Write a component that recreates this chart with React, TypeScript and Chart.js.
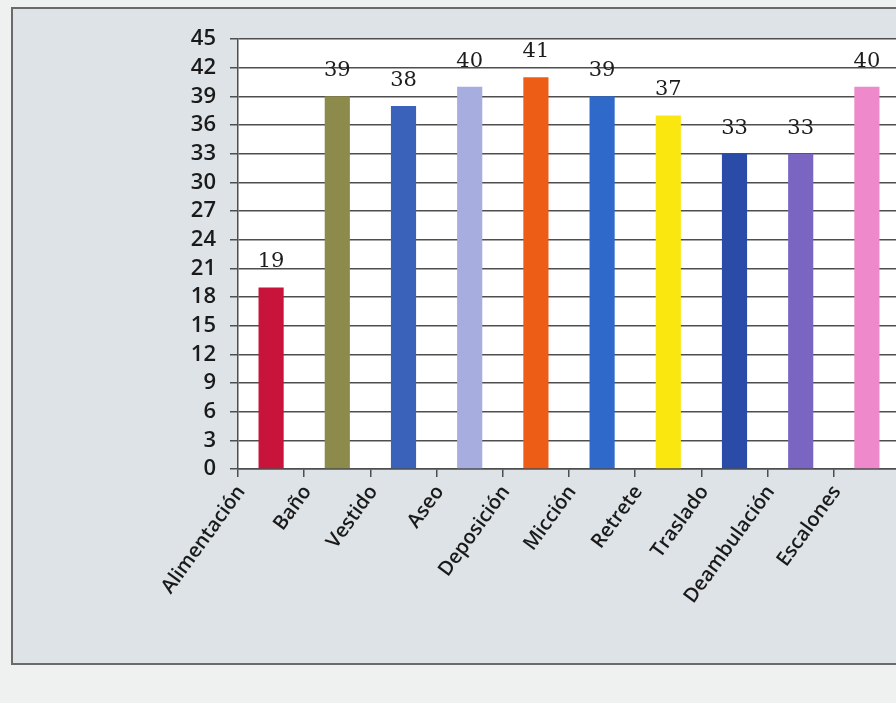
import { useEffect, useRef } from "react";
import { Chart, registerables } from "chart.js";

Chart.register(...registerables);

// Activities of daily living and their scores
const categories = [
  "Alimentación",
  "Baño",
  "Vestido",
  "Aseo",
  "Deposición",
  "Micción",
  "Retrete",
  "Traslado",
  "Deambulación",
  "Escalones",
];
const values = [19, 39, 38, 40, 41, 39, 37, 33, 33, 40];
const barColors = [
  "#c8133a",
  "#8c8b4c",
  "#3a62bb",
  "#a8addf",
  "#ee5d16",
  "#2f69c9",
  "#fbe710",
  "#2b4ba8",
  "#7a66c2",
  "#ee8acb",
];
const yMin = 0;
const yMax = 45;
const yStep = 3;

const CANVAS_W = 887;
const CANVAS_H = 654;

const inkColor = "#4e4e4e";
const labelFamily = "'Open Sans', Lato, sans-serif";

const plotBackground = {
  id: "plotBackground",
  beforeDraw(chart: any) {
    const { ctx, chartArea } = chart;
    ctx.save();
    ctx.fillStyle = "#ffffff";
    ctx.fillRect(chartArea.left, chartArea.top, chartArea.right - chartArea.left, chartArea.bottom - chartArea.top);
    ctx.restore();
  },
};

const valueLabels = {
  id: "valueLabels",
  afterDatasetsDraw(chart: any) {
    const { ctx } = chart;
    const meta = chart.getDatasetMeta(0);
    ctx.save();
    ctx.font = "21px 'DejaVu Serif', serif";
    ctx.fillStyle = "#1c1c1c";
    ctx.textAlign = "center";
    ctx.textBaseline = "alphabetic";
    meta.data.forEach((bar: any, i: number) => {
      ctx.fillText(String(values[i]), bar.x, bar.y - 20);
    });
    ctx.restore();
  },
};

export default function App() {
  const canvasRef = useRef<HTMLCanvasElement | null>(null);

  useEffect(() => {
    if (!canvasRef.current) return;
    const chart = new Chart(canvasRef.current, {
      type: "bar",
      data: {
        labels: categories,
        datasets: [
          {
            data: values,
            backgroundColor: barColors,
            borderWidth: 0,
            barPercentage: 0.38,
            categoryPercentage: 1,
          },
        ],
      },
      options: {
        responsive: false,
        animation: false,
        layout: { padding: { top: 30, right: 0, bottom: 0, left: 0 } },
        plugins: {
          legend: { display: false },
          tooltip: { enabled: false },
          title: { display: false },
        },
        scales: {
          x: {
            grid: {
              display: true,
              drawOnChartArea: false,
              drawTicks: true,
              tickLength: 8,
              color: inkColor,
              lineWidth: 1.5,
            },
            border: { display: true, color: inkColor, width: 1.5 },
            ticks: {
              minRotation: 54,
              maxRotation: 54,
              autoSkip: false,
              padding: 4,
              labelOffset: -30,
              color: "#1a1a1a",
              font: { family: labelFamily, size: 20, weight: 600 },
            },
            afterFit(scale: any) {
              scale.height = CANVAS_H - 460;
            },
          },
          y: {
            min: yMin,
            max: yMax,
            grid: {
              color: inkColor,
              lineWidth: 1.5,
              tickLength: 8,
              drawTicks: true,
            },
            border: { display: true, color: inkColor, width: 1.5 },
            ticks: {
              stepSize: yStep,
              autoSkip: false,
              padding: 14,
              color: "#1a1a1a",
              font: { family: labelFamily, size: 22, weight: 600 },
            },
            afterFit(scale: any) {
              scale.width = 225;
            },
          },
        },
      },
      plugins: [plotBackground, valueLabels],
    });
    return () => chart.destroy();
  }, []);

  return (
    <div
      style={{
        position: "fixed",
        left: 0,
        top: 0,
        width: 896,
        height: 703,
        overflow: "hidden",
        background: "#eff1f1",
      }}
    >
      <div
        style={{
          position: "absolute",
          left: 11,
          top: 7,
          width: 920,
          height: CANVAS_H,
          background: "#dde3e6",
          border: "2px solid #6a6a6a",
        }}
      >
        <canvas
          ref={canvasRef}
          width={CANVAS_W}
          height={CANVAS_H}
          style={{ display: "block", width: CANVAS_W, height: CANVAS_H }}
        />
      </div>
    </div>
  );
}
